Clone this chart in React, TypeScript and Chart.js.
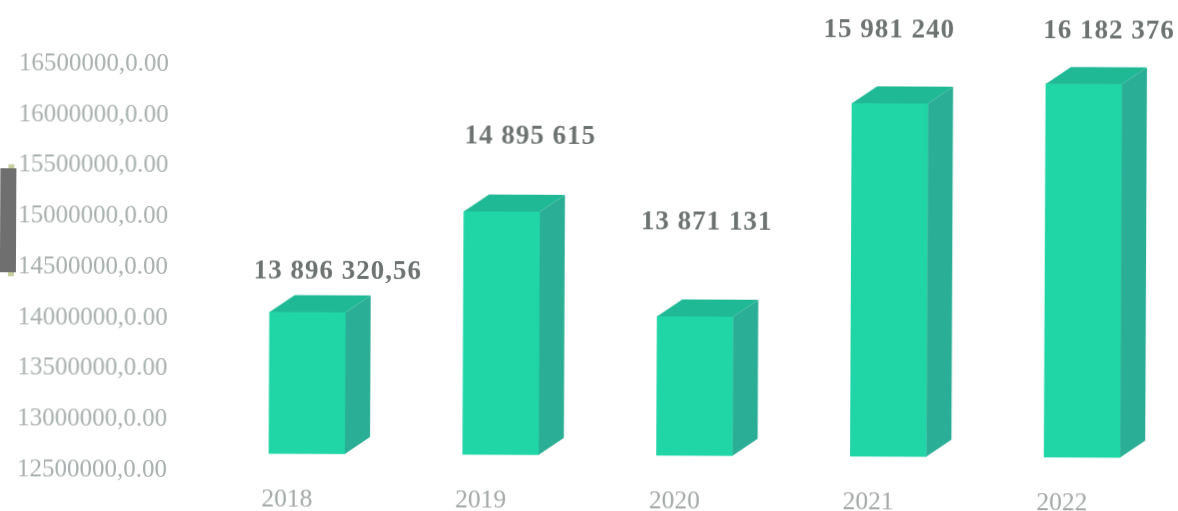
import React, { useEffect, useRef } from "react";
import { Chart, registerables } from "chart.js";

Chart.register(...registerables);

const categories = ["2018", "2019", "2020", "2021", "2022"];
const values = [13896320.56, 14895615, 13871131, 15981240, 16182376];
const valueLabels = ["13 896 320,56", "14 895 615", "13 871 131", "15 981 240", "16 182 376"];
const axisMin = 12500000;
const axisMax = 16500000;
const axisStep = 500000;

const FONT = '"Liberation Serif", serif';
const FRONT = "#20d5a6";
const TOP = "#1fb995";
const SIDE = "#2aae95";

export default function App() {
  const ref = useRef<HTMLCanvasElement>(null);

  useEffect(() => {
    const canvas = ref.current;
    if (!canvas) return;

    const plotTop = 66.5;
    const plotBottom = 471.5;
    const floorLift = 17;
    const lift = (floorLift / (plotBottom - plotTop)) * (axisMax - axisMin);
    const depthX = 25;
    const depthY = 17;
    const labelNudge = [
      [30, 40.5],
      [28, 75.5],
      [11, 93.5],
      [-1, 73],
      [25, 52.5],
    ];

    const box3d = {
      id: "box3d",
      beforeDraw(chart: any) {
        const ctx = chart.ctx;
        ctx.save();
        ctx.fillStyle = "#6f6f6f";
        ctx.fillRect(-5, 171, 21, 104);
        ctx.fillStyle = "#c9d0a0";
        ctx.fillRect(8, 167, 6, 4);
        ctx.fillRect(8, 275, 6, 4);
        ctx.restore();
      },
      afterDatasetsDraw(chart: any) {
        const ctx = chart.ctx;
        const bars = chart.getDatasetMeta(0).data;
        ctx.save();
        bars.forEach((bar: any, i: number) => {
          const left = bar.x - bar.width / 2;
          const right = bar.x + bar.width / 2;
          ctx.fillStyle = TOP;
          ctx.beginPath();
          ctx.moveTo(left, bar.y);
          ctx.lineTo(left + depthX, bar.y - depthY);
          ctx.lineTo(right + depthX, bar.y - depthY);
          ctx.lineTo(right, bar.y);
          ctx.closePath();
          ctx.fill();
          ctx.fillStyle = SIDE;
          ctx.beginPath();
          ctx.moveTo(right, bar.y);
          ctx.lineTo(right + depthX, bar.y - depthY);
          ctx.lineTo(right + depthX, bar.base - depthY);
          ctx.lineTo(right, bar.base);
          ctx.closePath();
          ctx.fill();

          ctx.fillStyle = "#6d7371";
          ctx.font = `bold 27px ${FONT}`;
          ctx.textAlign = "center";
          ctx.textBaseline = "middle";
          (ctx as any).letterSpacing = "1px";
          ctx.fillText(valueLabels[i], bar.x + labelNudge[i][0], bar.y - labelNudge[i][1]);
        });
        ctx.restore();
      },
    };

    const chart = new Chart(canvas, {
      type: "bar",
      data: {
        labels: categories,
        datasets: [
          {
            data: values,
            base: axisMin,
            yAxisID: "bars",
            backgroundColor: FRONT,
            borderWidth: 0,
            barThickness: 76,
          } as any,
        ],
      },
      options: {
        responsive: false,
        animation: false,
        layout: { padding: { top: plotTop, left: 0, right: 0, bottom: 0 } },
        plugins: { legend: { display: false }, tooltip: { enabled: false } },
        scales: {
          x: {
            grid: { display: false, drawTicks: false },
            border: { display: false },
            ticks: {
              color: "#a3a8a6",
              font: { family: FONT, size: 25.5 },
              padding: 14,
              labelOffset: -20,
              maxRotation: 0,
              autoSkip: false,
            },
            afterFit: (s: any) => {
              s.height = 45;
            },
          },
          y: {
            min: axisMin,
            max: axisMax,
            grid: { display: false, drawTicks: false },
            border: { display: false },
            ticks: {
              stepSize: axisStep,
              color: "#a9b0ae",
              font: { family: FONT, size: 25 },
              padding: 43,
              callback: (v: any) => `${v},0.00`,
            },
            afterFit: (s: any) => {
              s.width = 211;
            },
          },
          bars: {
            display: false,
            min: axisMin - lift,
            max: axisMax - lift,
          },
        },
      } as any,
      plugins: [box3d],
    });
    return () => chart.destroy();
  }, []);

  return (
    <div style={{ position: "fixed", left: 0, top: 0, width: 1178, height: 511, overflow: "hidden", background: "#fff" }}>
      <canvas
        ref={ref}
        width={1180}
        height={530}
        style={{ display: "block", transform: "rotate(0.27deg)", transformOrigin: "589px 255px", filter: "blur(0.35px)" }}
      />
    </div>
  );
}
